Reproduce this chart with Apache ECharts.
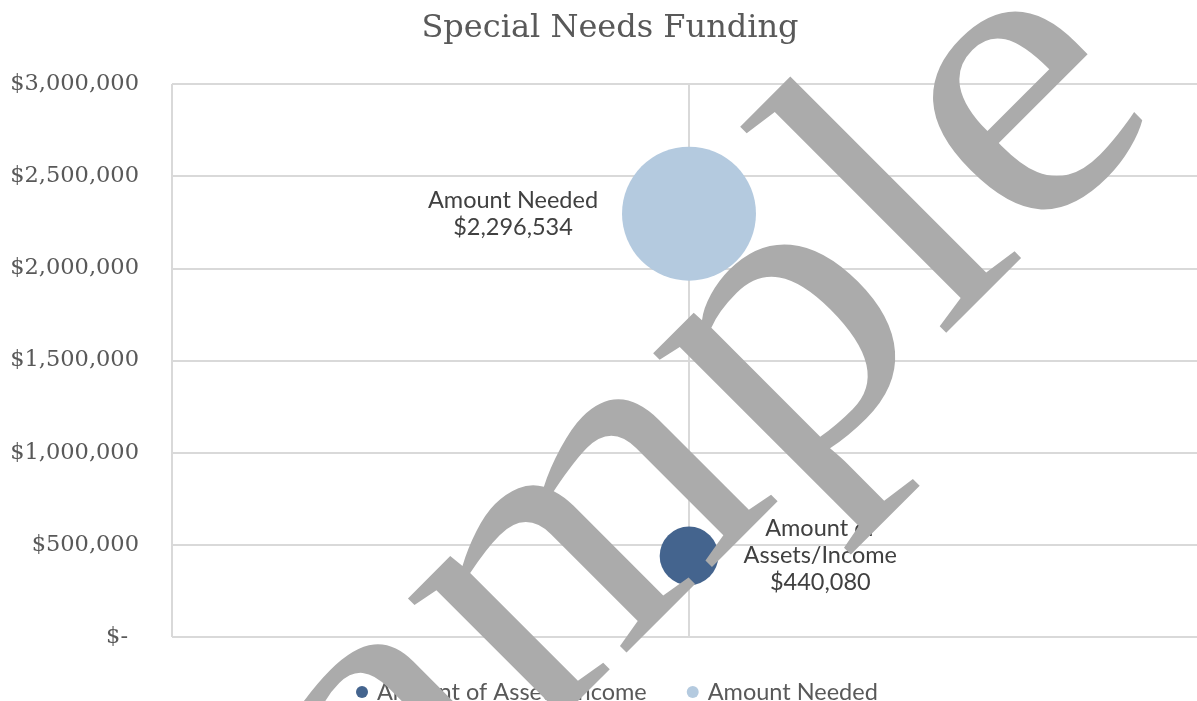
<!DOCTYPE html>
<html>
<head>
<meta charset="utf-8">
<script src="https://cdn.jsdelivr.net/npm/echarts@6/dist/echarts.min.js"></script>
<style>
html,body{margin:0;padding:0;background:#fff;overflow:hidden;width:1197px;height:701px;}
#chart{width:1206px;height:701px;}
</style>
</head>
<body>
<div id="chart"></div>
<script>
const seriesNames = ['Amount of Assets/Income', 'Amount Needed'];
const seriesValues = [440080, 2296534];
const xPositions = [1, 1];
const labelTexts = ['Amount of\nAssets/Income\n$440,080', 'Amount Needed\n$2,296,534'];
const colors = ['#44648e', '#b4cadf'];
const yTicks = [0, 500000, 1000000, 1500000, 2000000, 2500000, 3000000];

const chart = echarts.init(document.getElementById('chart'));
const sizeScale = 0.0884;

const option = {
  animation: false,
  backgroundColor: '#ffffff',
  title: {
    text: 'Special Needs Funding',
    left: 610,
    textAlign: 'center',
    top: 13,
    padding: 0,
    textStyle: {
      fontFamily: 'DejaVu Serif',
      fontSize: 32,
      fontWeight: 'normal',
      color: '#595959'
    }
  },
  legend: {
    left: 351,
    top: 675,
    itemWidth: 20,
    itemHeight: 12,
    itemGap: 40,
    icon: 'circle',
    data: seriesNames,
    textStyle: { fontFamily: 'Lato', fontSize: 23.5, color: '#595959' }
  },
  grid: { left: 172, right: 0, top: 84, bottom: 64 },
  xAxis: {
    type: 'value', min: 0, max: 2, interval: 1,
    axisLabel: { show: false }, axisTick: { show: false }, axisLine: { show: false },
    splitLine: { show: true, lineStyle: { color: '#d9d9d9', width: 2 } }
  },
  yAxis: {
    type: 'value', min: yTicks[0], max: yTicks[yTicks.length - 1], interval: 500000,
    axisTick: { show: false }, axisLine: { show: false },
    splitLine: { show: true, lineStyle: { color: '#d9d9d9', width: 2 } },
    axisLabel: {
      margin: 33,
      fontFamily: 'DejaVu Serif', fontSize: 22.5, color: '#595959',
      formatter: function (v) {
        if (v === 0) return '{z|$-}';
        return '$' + v.toLocaleString('en-US');
      },
      rich: { z: { fontFamily: 'DejaVu Serif', fontSize: 22.5, color: '#595959', padding: [0, 11, 0, 0] } }
    }
  },
  series: seriesNames.map(function (name, i) {
    return {
      name: name,
      type: 'scatter',
      data: [[xPositions[i], seriesValues[i]]],
      symbolSize: function (d) { return Math.sqrt(d[1]) * sizeScale; },
      itemStyle: { color: colors[i], opacity: 1 },
      label: {
        show: true,
        position: i === 0 ? 'right' : 'left',
        distance: i === 0 ? 102 : 109,
        align: 'center',
        verticalAlign: 'middle',
        lineHeight: 27,
        fontFamily: 'Lato', fontSize: 23.5, color: '#404040',
        formatter: labelTexts[i]
      }
    };
  }),
  graphic: [{
    type: 'text',
    x: 617, y: 506,
    rotation: Math.PI / 4,
    scaleX: 1.06,
    z: 100,
    silent: true,
    style: {
      text: 'Sample',
      fontFamily: 'Liberation Serif',
      fontSize: 420,
      fill: '#ababab',
      align: 'center',
      verticalAlign: 'middle'
    }
  }]
};
chart.setOption(option);
</script>
</body>
</html>
